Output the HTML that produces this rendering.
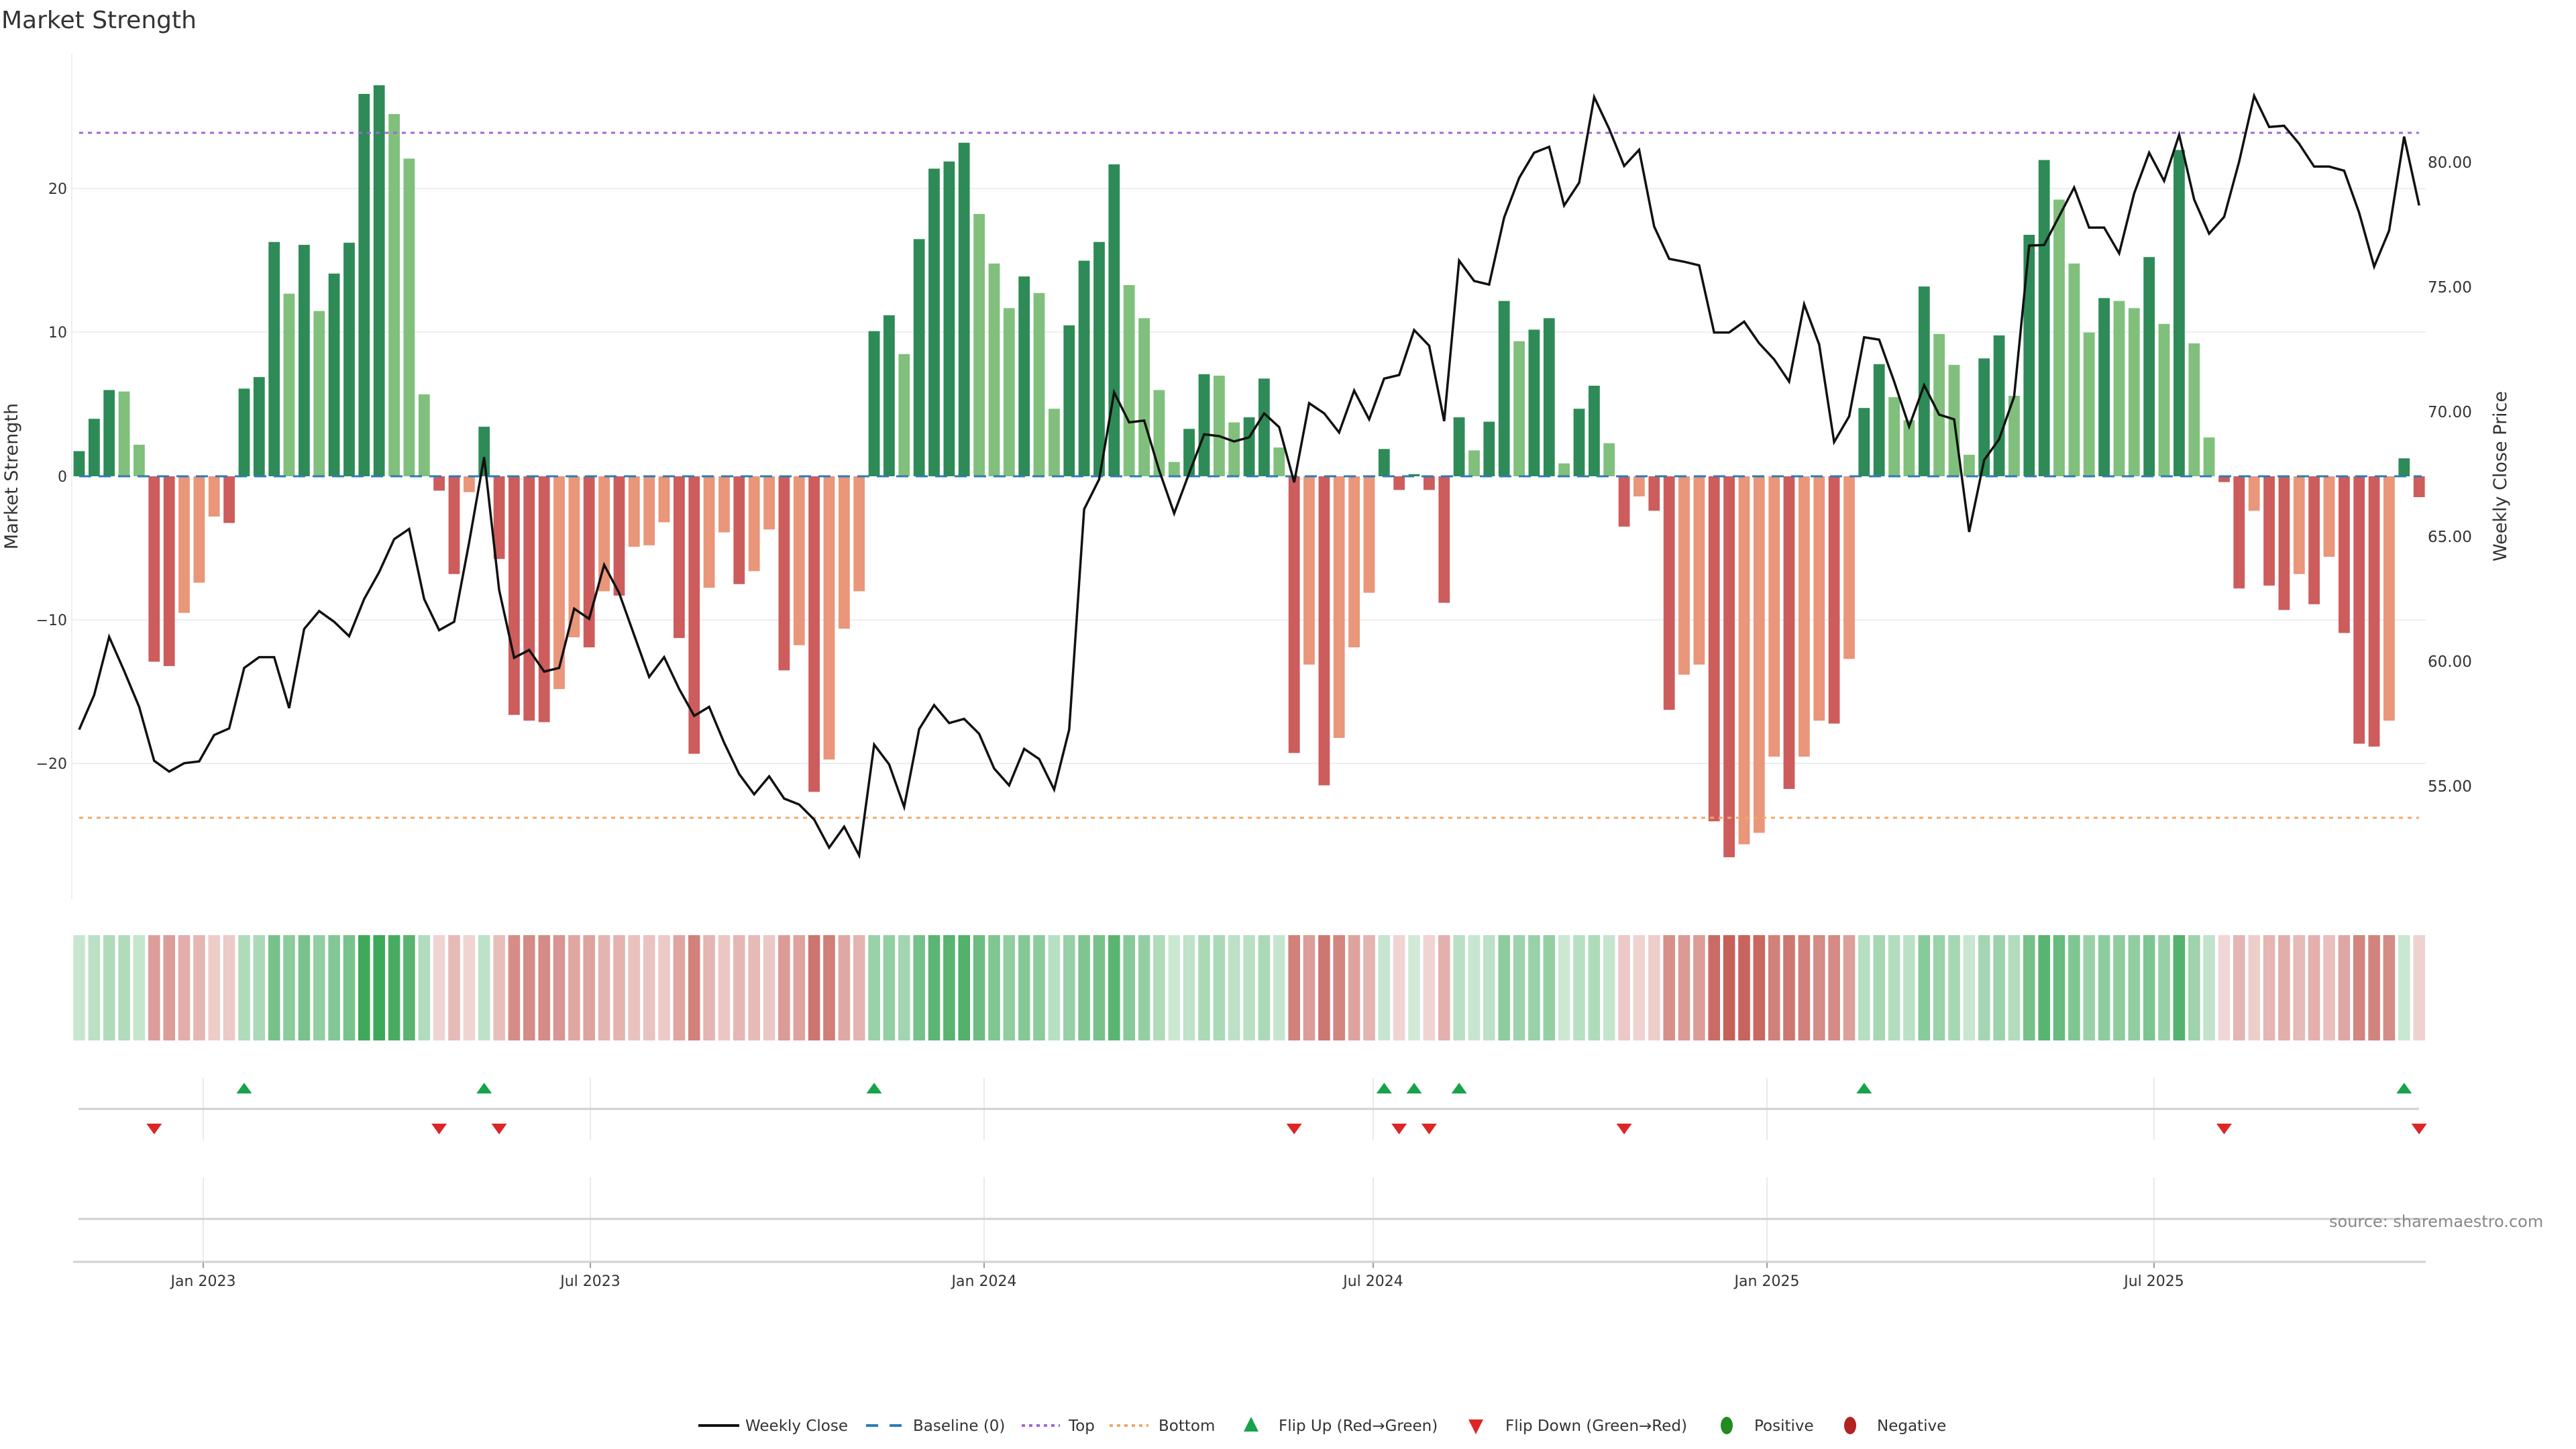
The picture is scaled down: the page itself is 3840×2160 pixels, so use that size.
<!DOCTYPE html>
<html><head><meta charset="utf-8"><style>
html,body{margin:0;padding:0;background:#fff;}
svg{display:block;font-family:"DejaVu Sans","Liberation Sans",sans-serif;}
</style></head><body>
<svg id="s" width="3840" height="2160" viewBox="0 0 3840 2160" xmlns="http://www.w3.org/2000/svg">
<rect width="3840" height="2160" fill="#fff"/>
<text x="2" y="42" font-size="36" fill="#333">Market Strength</text>
<g stroke="#eceff1" stroke-width="2">
<line x1="108" y1="281" x2="3616" y2="281"/>
<line x1="108" y1="495" x2="3616" y2="495"/>
<line x1="108" y1="924" x2="3616" y2="924"/>
<line x1="108" y1="1138" x2="3616" y2="1138"/>
</g>
<line x1="107" y1="80" x2="107" y2="1340" stroke="#eceff1" stroke-width="2"/>
<g font-size="22" fill="#333" text-anchor="end">
<text x="100" y="289">20</text><text x="100" y="503">10</text><text x="100" y="718">0</text>
<text x="100" y="932">−10</text><text x="100" y="1146">−20</text>
</g>
<g font-size="23" fill="#333">
<text x="3619" y="250">80.00</text><text x="3619" y="436">75.00</text><text x="3619" y="622">70.00</text>
<text x="3619" y="808">65.00</text><text x="3619" y="994">60.00</text><text x="3619" y="1180">55.00</text>
</g>
<text transform="translate(26,710) rotate(-90)" font-size="27" fill="#333" text-anchor="middle">Market Strength</text>
<text transform="translate(3736,710) rotate(-90)" font-size="27" fill="#333" text-anchor="middle">Weekly Close Price</text>
<g id="bars"></g>
<line x1="118" y1="710" x2="3610" y2="710" stroke="#2c7bb6" stroke-width="3" stroke-dasharray="18 11"/>
<line x1="118" y1="198" x2="3606" y2="198" stroke="#a066dd" stroke-width="3" stroke-dasharray="6 7"/>
<line x1="118" y1="1219" x2="3606" y2="1219" stroke="#f0a868" stroke-width="3" stroke-dasharray="6 7"/>
<polyline id="price" fill="none" stroke="#111" stroke-width="3.5" stroke-linejoin="miter"/>
<g id="heat"></g>
<g id="vgrid" stroke="#e8eaec" stroke-width="2"></g>
<line x1="117" y1="1653" x2="3606" y2="1653" stroke="#d0d0d0" stroke-width="3"/>
<line x1="117" y1="1817" x2="3616" y2="1817" stroke="#d0d0d0" stroke-width="3"/>
<line x1="109" y1="1881" x2="3616" y2="1881" stroke="#d0d0d0" stroke-width="3"/>
<g id="marks"></g>
<g font-size="22" fill="#333" text-anchor="middle">
<text x="303" y="1917">Jan 2023</text><text x="880" y="1917">Jul 2023</text>
<text x="1467" y="1917">Jan 2024</text><text x="2047" y="1917">Jul 2024</text>
<text x="2634" y="1917">Jan 2025</text><text x="3211" y="1917">Jul 2025</text>
</g>
<text x="3472" y="1829" font-size="24" fill="#888">source: sharemaestro.com</text>
<g font-size="23" fill="#333">
<line x1="1041" y1="2125" x2="1102" y2="2125" stroke="#111" stroke-width="4"/>
<text x="1111" y="2133">Weekly Close</text>
<line x1="1291" y1="2125" x2="1345" y2="2125" stroke="#2c7bb6" stroke-width="4" stroke-dasharray="18 17"/>
<text x="1361" y="2133">Baseline (0)</text>
<line x1="1523" y1="2125" x2="1580" y2="2125" stroke="#a066dd" stroke-width="4" stroke-dasharray="5 6"/>
<text x="1593" y="2133">Top</text>
<line x1="1654" y1="2125" x2="1712" y2="2125" stroke="#f0a868" stroke-width="4" stroke-dasharray="5 6"/>
<text x="1727" y="2133">Bottom</text>
<polygon points="1865,2112 1876,2134 1854,2134" fill="#16a34a"/>
<text x="1906" y="2133">Flip Up (Red→Green)</text>
<polygon points="2189,2116 2211,2116 2200,2138" fill="#dc2626"/>
<text x="2244" y="2133">Flip Down (Green→Red)</text>
<ellipse cx="2574" cy="2125" rx="9" ry="13" fill="#228b22"/>
<text x="2615" y="2133">Positive</text>
<ellipse cx="2758" cy="2125" rx="9" ry="13" fill="#b22222"/>
<text x="2798" y="2133">Negative</text>
</g>
</svg>
<script>
var V=[1.75,4.0,6.0,5.9,2.2,-12.9,-13.2,-9.5,-7.4,-2.8,-3.25,
6.1,6.9,16.3,12.7,16.1,11.5,14.1,16.25,26.6,27.2,25.2,22.1,5.7,
-1.0,-6.8,-1.1,3.45,-5.75,-16.6,-17.0,-17.1,-14.8,-11.2,-11.9,-8.0,-8.3,-4.9,-4.8,-3.2,-11.25,-19.3,-7.75,-3.9,-7.5,-6.6,-3.7,-13.5,-11.75,-21.95,-19.7,-10.6,-8.0,
10.1,11.2,8.5,16.5,21.4,21.9,23.2,18.25,14.8,11.7,13.9,12.75,4.7,10.5,15.0,16.3,21.7,13.3,11.0,6.0,1.0,3.3,7.1,7.0,3.75,4.1,6.8,2.0,
-19.25,-13.1,-21.5,-18.2,-11.9,-8.1,1.9,-0.95,0.15,-0.95,-8.8,4.1,1.8,3.8,12.2,9.4,10.2,11.0,0.9,4.7,6.3,2.3,-3.5,-1.4,-2.4,-16.25,-13.8,-13.1,
-24.0,-26.5,-25.6,-24.8,-19.5,-21.75,-19.5,-17.0,-17.2,-12.7,4.75,7.8,5.5,3.9,13.2,9.9,7.75,1.5,8.2,9.8,5.6,16.8,22.0,19.25,14.8,10.0,12.4,12.2,11.7,15.25,10.6,22.7,9.25,2.7,
-0.4,-7.8,-2.4,-7.6,-9.3,-6.8,-8.9,-5.6,-10.9,-18.6,-18.8,-17.0,1.25,-1.45];
var L=[1218,1160,1063,1120,1180,1270,1288,1274,1271,1227,1216,1115,1097,1097,1182,1050,1020,1038,1062,1000,955,900,883,1000,1052,1038,905,763,985,1098,1085,1121,1115,1016,1033,943,990,1060,1130,1097,1150,1195,1180,1240,1292,1326,1296,1333,1343,1368,1415,1380,1428,
1243,1276,1347,1217,1177,1207,1200,1225,1283,1311,1250,1267,1318,1218,850,800,655,705,702,785,857,790,725,728,737,730,690,713,805,673,690,722,652,700,632,626,551,577,703,435,469,475,363,297,255,245,343,305,162,215,277,250,378,432,437,443,
555,555,537,573,600,637,508,575,738,695,563,567,637,712,643,692,700,888,768,733,662,410,409,361,313,380,380,423,323,255,302,225,333,390,362,270,160,212,210,240,278,278,285,355,445,385,228,343];
var NS="http://www.w3.org/2000/svg";
function el(t,a,p){var e=document.createElementNS(NS,t);for(var k in a)e.setAttribute(k,a[k]);p.appendChild(e);return e;}
var sp=22.36,x0=118,z=710,u=21.43;
var bars=document.getElementById('bars'),heat=document.getElementById('heat'),marks=document.getElementById('marks');
var pts=[];
for(var i=0;i<V.length;i++){
 var v=V[i],x=x0+i*sp,pv=i>0?V[i-1]:-1;
 var up=v>=pv,col;
 if(v>=0)col=up?'#2e8b57':'#80c07c';else col=up?'#e9967a':'#cd5c5c';
 var h=Math.abs(v)*u,y=v>=0?z-h:z;
 el('rect',{x:(x-8.4).toFixed(1),y:y.toFixed(1),width:16.8,height:Math.max(h,1).toFixed(1),fill:col},bars);
 var a=0.22+0.7*Math.min(Math.abs(v)/27,1),c;
 if(v>=0)c=[44,160,75];else c=[192,80,72];
 var r=Math.round(255-a*(255-c[0])),g=Math.round(255-a*(255-c[1])),b=Math.round(255-a*(255-c[2]));
 el('rect',{x:(x-8.8).toFixed(1),y:1394,width:17.6,height:157,fill:'rgb('+r+','+g+','+b+')'},heat);
 pts.push(x.toFixed(1)+','+(L[i]*0.893).toFixed(1));
 if(i>0){
  if(pv<0&&v>=0)el('polygon',{points:(x-11.5)+',1630 '+(x+11.5)+',1630 '+x+',1614',fill:'#16a34a'},marks);
  if(pv>=0&&v<0)el('polygon',{points:(x-11.5)+',1675 '+(x+11.5)+',1675 '+x+',1691',fill:'#dc2626'},marks);
 }
}
document.getElementById('price').setAttribute('points',pts.join(' '));
var vg=document.getElementById('vgrid');
[303,880,1467,2047,2634,3211].forEach(function(x){
 el('line',{x1:x,y1:1607,x2:x,y2:1700},vg);
 el('line',{x1:x,y1:1755,x2:x,y2:1881},vg);
 el('line',{x1:x,y1:1882,x2:x,y2:1890,stroke:'#999'},vg);
});
</script>
</body></html>
